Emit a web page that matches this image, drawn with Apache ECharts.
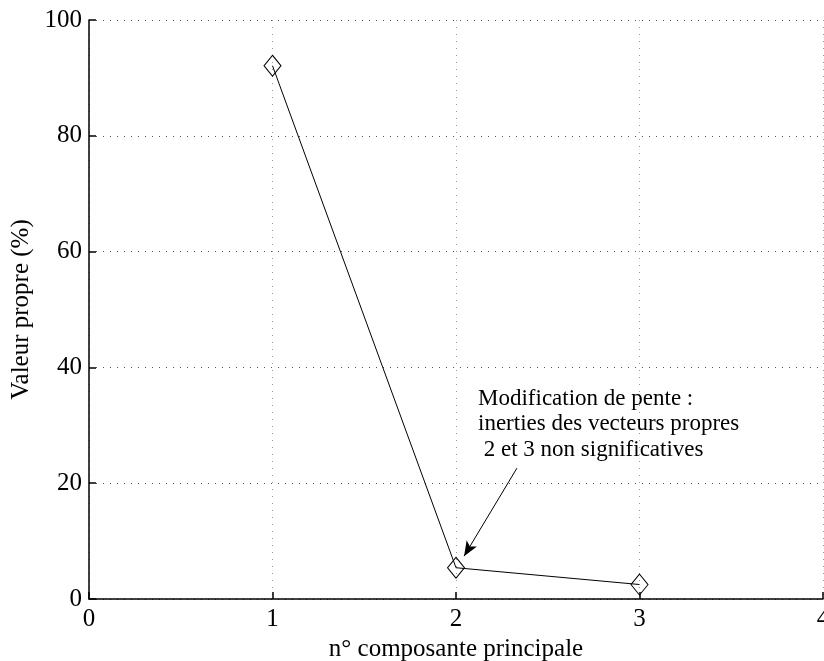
<!DOCTYPE html>
<html><head><meta charset="utf-8">
<script src="https://cdn.jsdelivr.net/npm/echarts@6/dist/echarts.min.js"></script>
<style>html,body{margin:0;padding:0;background:#fff;overflow:hidden;}#c{width:824px;height:661px;}</style>
</head><body><div id="c"></div>
<script>
var components = [1, 2, 3];
var eigenvalues = [92.1, 5.4, 2.5];
var xTicks = [0, 1, 2, 3, 4];
var yTicks = [0, 20, 40, 60, 80, 100];
var noteLines = ['Modification de pente :', 'inerties des vecteurs propres', ' 2 et 3 non significatives'];
var arrowFrom = [2.332, 22.6];
var arrowTo = [2.044, 7.4];
var noteAnchor = [2.12, 34.6];

var FONT = '"Liberation Serif", "Times New Roman", serif';
var chart = echarts.init(document.getElementById('c'), null, {renderer: 'canvas'});
chart.setOption({
  animation: false,
  backgroundColor: '#fff',
  grid: {left: 89, right: 1, top: 20, bottom: 62, containLabel: false, outerBoundsMode: 'none'},
  xAxis: {
    type: 'value', min: 0, max: 4, interval: 1,
    name: 'n° composante principale', nameLocation: 'middle', nameGap: 37,
    nameTextStyle: {fontFamily: FONT, fontSize: 25, color: '#000'},
    axisLine: {show: true, onZero: false, lineStyle: {color: '#000', width: 1.5}},
    axisTick: {show: true, inside: true, length: 7, lineStyle: {color: '#000', width: 1.5}},
    axisLabel: {fontFamily: FONT, fontSize: 25, color: '#000', margin: 8, hideOverlap: false,
      formatter: function (v) { return xTicks.indexOf(v) >= 0 ? String(v) : ''; }},
    splitLine: {show: true, lineStyle: {color: '#999', type: [1, 6], width: 1}}
  },
  yAxis: {
    type: 'value', min: 0, max: 100, interval: 20,
    name: 'Valeur propre (%)', nameLocation: 'middle', nameGap: 47, nameRotate: 90,
    nameTextStyle: {fontFamily: FONT, fontSize: 25, color: '#000'},
    axisLine: {show: true, onZero: false, lineStyle: {color: '#000', width: 1.5}},
    axisTick: {show: true, inside: true, length: 7, lineStyle: {color: '#000', width: 1.5}},
    axisLabel: {fontFamily: FONT, fontSize: 25, color: '#000', margin: 7,
      formatter: function (v) { return yTicks.indexOf(v) >= 0 ? String(v) : ''; }},
    splitLine: {show: true, lineStyle: {color: '#555', type: [1, 6], width: 1}}
  },
  series: [{
    type: 'line',
    data: components.map(function (c, i) { return [c, eigenvalues[i]]; }),
    symbol: 'diamond', symbolSize: [17, 21], showSymbol: true,
    lineStyle: {color: '#000', width: 1},
    itemStyle: {color: 'rgba(0,0,0,0)', borderColor: '#000', borderWidth: 1},
    z: 5,
    markLine: {
      silent: true, animation: false,
      symbol: ['none', 'arrow'], symbolSize: [9, 15],
      lineStyle: {color: '#000', width: 1, type: 'solid'},
      label: {show: false},
      data: [[{coord: arrowFrom}, {coord: arrowTo}]]
    }
  }]
});
var base = chart.convertToPixel({gridIndex: 0}, noteAnchor);
chart.setOption({
  graphic: noteLines.map(function (t, i) {
    return {type: 'text', x: base[0], y: base[1] + i * 25.5,
      style: {text: t, fontFamily: FONT, fontSize: 23, fill: '#000', verticalAlign: 'middle'}, z: 10};
  })
});
</script></body></html>
